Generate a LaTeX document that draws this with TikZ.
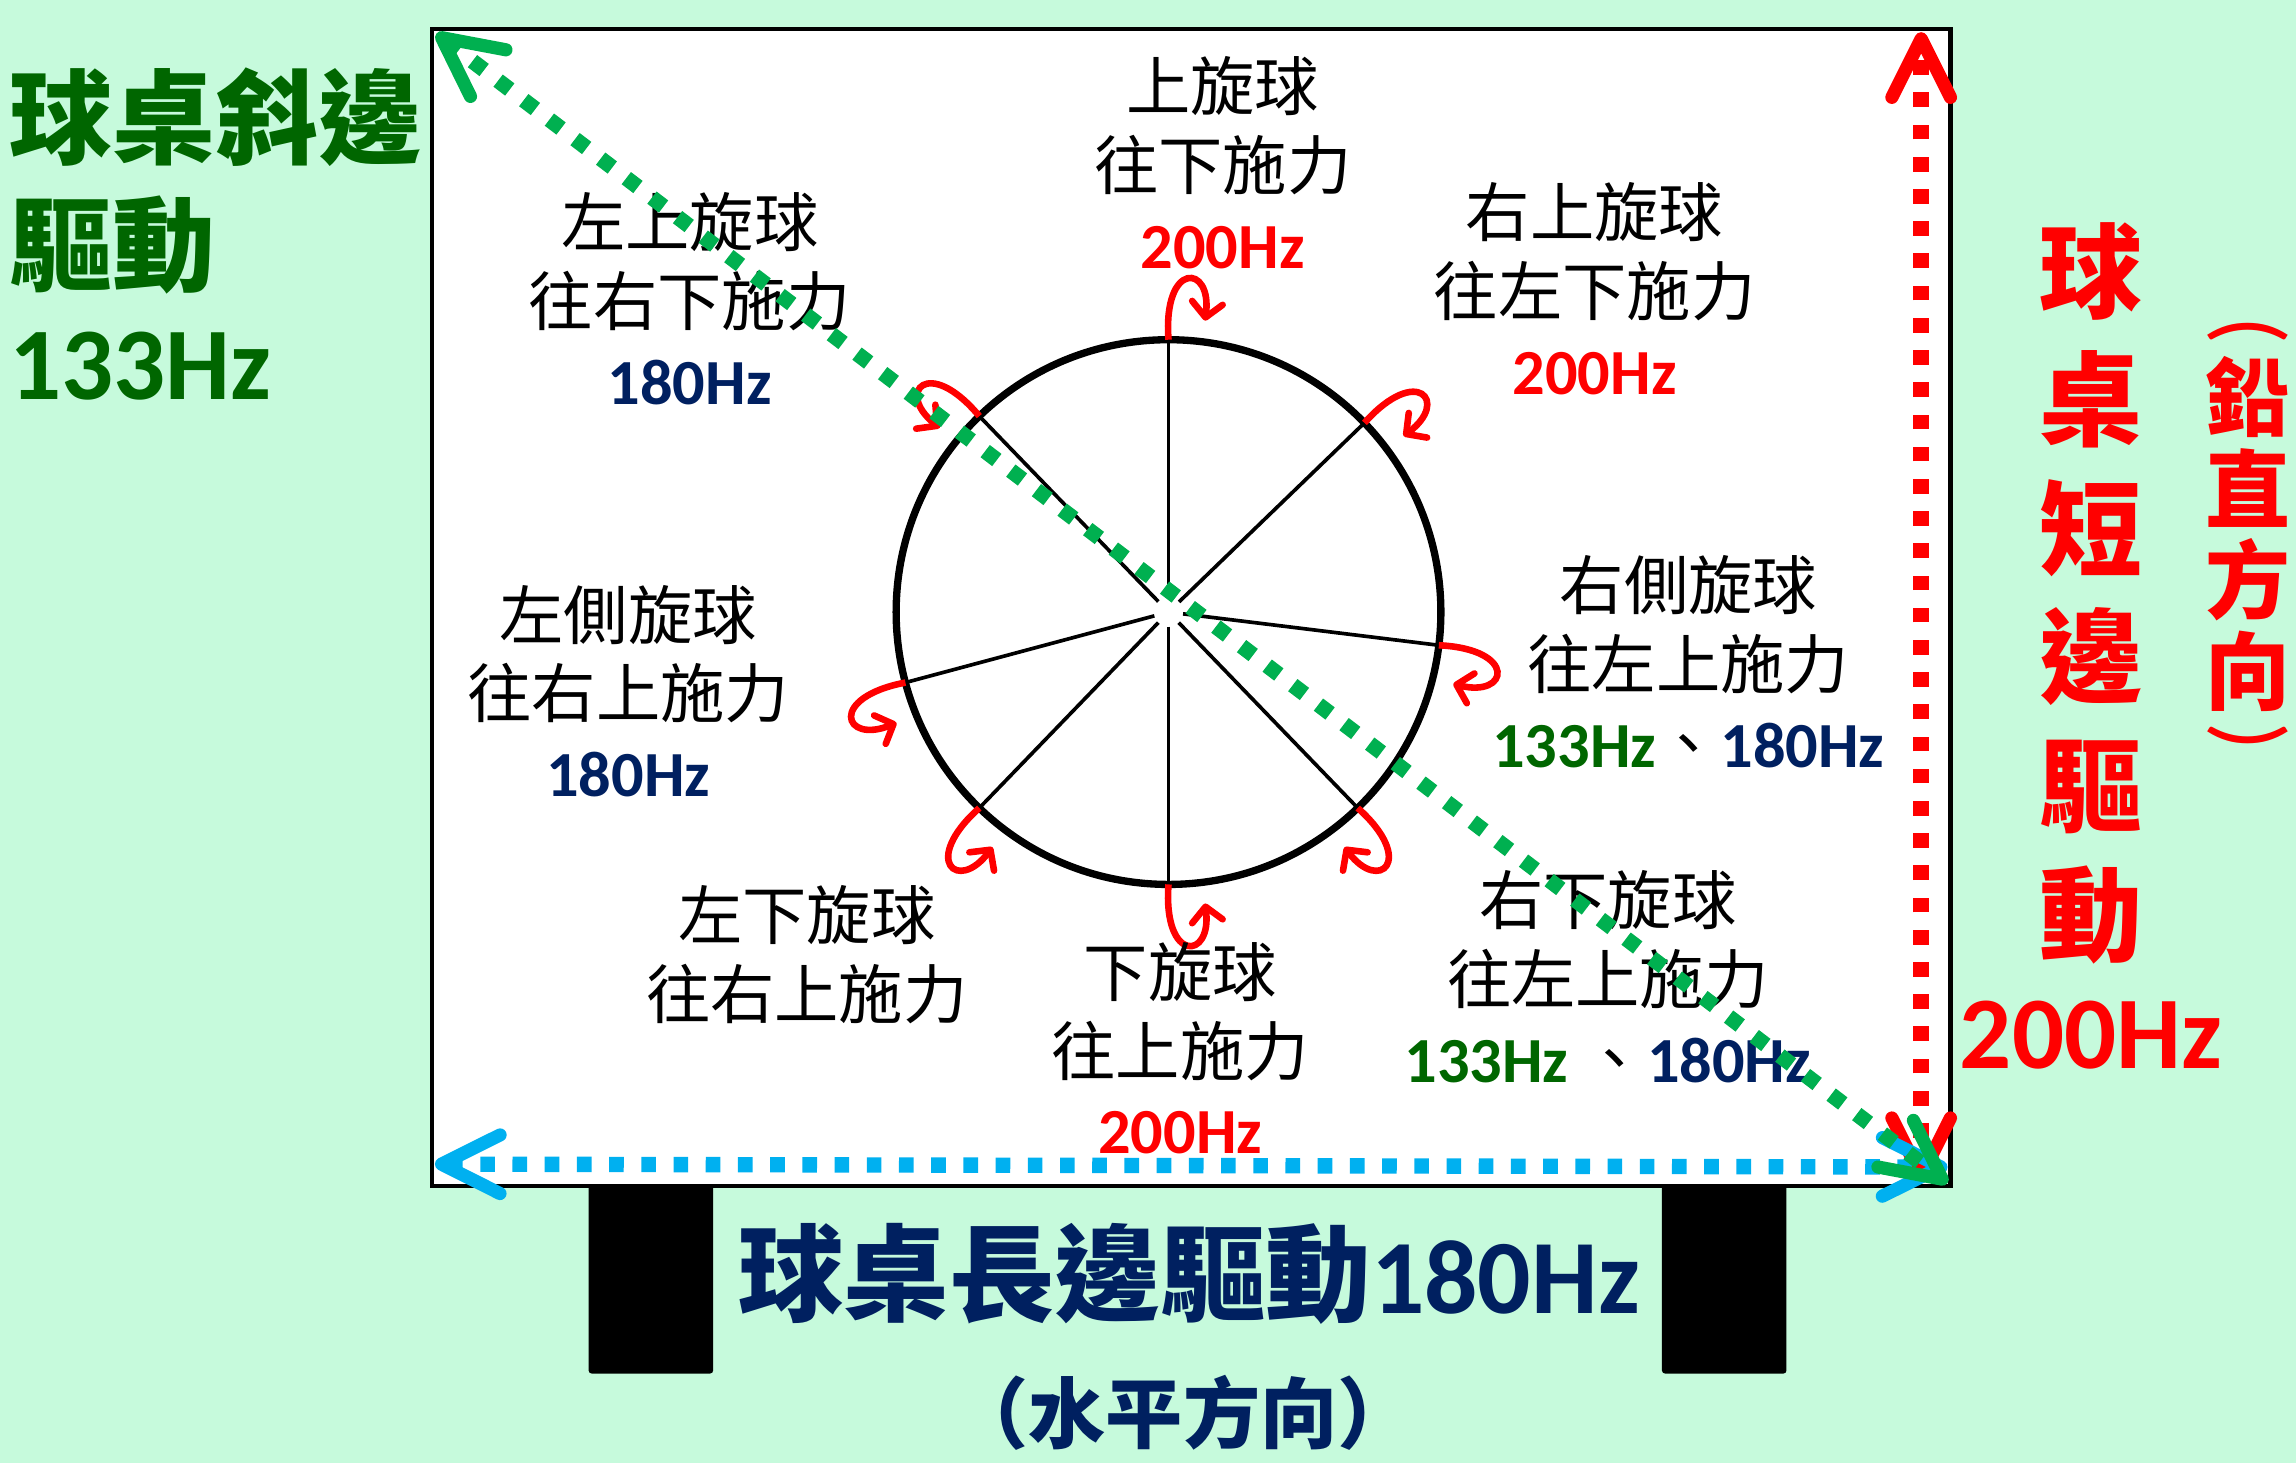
\documentclass[tikz,border=0pt]{standalone}
\usepackage{fontspec}
\usepackage{graphicx}
\usepackage{tikz}
\usetikzlibrary{arrows.meta,positioning}
\setmainfont{Carlito}
\newfontfamily\cjk{Noto Sans CJK TC}
\newfontfamily\hzfont{Carlito}
\newcommand\hzf{\hzfont\bfseries}
\definecolor{TableBg}{RGB}{198,250,220}
\definecolor{DiagGreen}{RGB}{0,176,80}
\definecolor{LongBlue}{RGB}{0,176,240}
\definecolor{SpinRed}{RGB}{255,0,0}
\definecolor{DeepGreen}{RGB}{0,102,0}
\definecolor{Navy}{RGB}{0,32,96}

\begin{document}
\begin{tikzpicture}[x=0.02cm, y=0.02cm,
    lbl/.style={font=\cjk\fontsize{25}{30.6}\selectfont, align=center, inner sep=0pt},
    bigl/.style={font=\cjk\bfseries\fontsize{40}{50}\selectfont, inner sep=0pt},
    paren/.style={font=\hzfont\fontsize{36}{36}\selectfont, inner sep=0pt, text=SpinRed},
    drive/.style={line width=0.21cm, dash pattern=on 0.2cm off 0.24cm, <->,
        >={Straight Barb[length=0.8cm, width=0.8cm, line width=0.18cm, round]}},
    spin/.style={draw=SpinRed, line width=0.09cm, -{Straight Barb[length=0.2cm, width=0.42cm, round]}},
    leg/.style={fill=black, rounded corners=0.04cm}
]
    % background
    \fill[TableBg] (0,0) rectangle (1568,-999);
    \useasboundingbox (0,0) rectangle (1568,-999);

    % table and legs
    \fill[leg] (402,-805) rectangle (487,-938);
    \fill[leg] (1135,-805) rectangle (1220,-938);
    \draw[fill=white, line width=0.06cm] (295,-20) rectangle (1332,-810);
    \coordinate (tl) at (298,-23);
    \coordinate (br) at (1330,-808);
    \coordinate (rtop) at (1312,-22);
    \coordinate (rbot) at (1312,-808);
    \coordinate (bleft) at (297,-795);
    \coordinate (bright) at (1330,-797);

    % ball with spin spokes
    \coordinate (ball) at (798,-418);
    \draw[line width=0.1cm] (ball) circle (186);
    \foreach \a/\s in {90/-1, 44/-1, -7/-1, -46/-1, 134/1, 195/1, 226/1, 270/1} {
        \begin{scope}[shift={(ball)}, rotate=\a]
            \draw[line width=0.05cm] (10,0) -- (186,0);
            \draw[spin] (186,0) .. controls (240,-\s*4) and (238,\s*30) .. (199,\s*25);
        \end{scope}
    }

    % spin labels
    \node[lbl] (topspin) at (835,-111) {上旋球\\往下施力\\{\hzf\color{SpinRed}200Hz}};
    \node[lbl] (ltopspin) at (471,-204) {左上旋球\\往右下施力\\{\hzf\color{Navy}180Hz}};
    \node[lbl] (rtopspin) at (1089,-197) {右上旋球\\往左下施力\\{\hzf\color{SpinRed}200Hz}};
    \node[lbl] (lside) at (429,-472) {左側旋球\\往右上施力\\{\hzf\color{Navy}180Hz}};
    \node[lbl] (rside) at (1153,-452) {右側旋球\\往左上施力\\{\hzf\color{DeepGreen}133Hz}、{\hzf\color{Navy}180Hz}};
    \node[lbl] (lback) at (551,-652) {左下旋球\\往右上施力};
    \node[lbl] (backspin) at (806,-716) {下旋球\\往上施力\\{\hzf\color{SpinRed}200Hz}};
    \node[lbl] (rback) at (1098,-667) {右下旋球\\往左上施力\\{\hzf\color{DeepGreen}133Hz} 、{\hzf\color{Navy}180Hz}};

    % drive labels
    \node[bigl, anchor=west, text=DeepGreen] (diagname) at (6,-80) {球桌斜邊};
    \node[bigl, anchor=west, text=DeepGreen] (diagdrive) at (6,-167) {驅動};
    \node[font=\hzf\fontsize{40}{40}\selectfont, inner sep=0pt, anchor=west, text=DeepGreen] (diaghz) at (6,-250) {133Hz};
    \node[bigl, align=center, text=SpinRed] (shortname) at (1428,-405) {球\\桌\\短\\邊\\驅\\動};
    \node[font=\hzf\fontsize{40}{40}\selectfont, inner sep=0pt, text=SpinRed] (shorthz) at (1428,-707) {200Hz};
    \node[font=\cjk\bfseries\fontsize{33}{35.5}\selectfont, align=center, inner sep=0pt, text=SpinRed] (shortdir) at (1535,-365) {鉛\\直\\方\\向};
    \node[paren] (dirl) at (1535,-226) {\rotatebox{-90}{(}};
    \node[paren] (dirr) at (1535,-503) {\rotatebox{-90}{)}};
    \node[font=\cjk\bfseries\fontsize{41}{41}\selectfont, inner sep=0pt, text=Navy] (longname) at (812,-870) {球桌長邊驅動{\hzf 180Hz}};
    \node[font=\cjk\bfseries\fontsize{30}{30}\selectfont, inner sep=0pt, text=Navy] (longdir) at (808,-965) {（水平方向）};

    % drive directions
    \draw[drive, SpinRed] (rbot) -- (rtop);
    \draw[drive, LongBlue] (bleft) -- (bright);
    \draw[drive, DiagGreen] (tl) -- (br);
\end{tikzpicture}
\end{document}
